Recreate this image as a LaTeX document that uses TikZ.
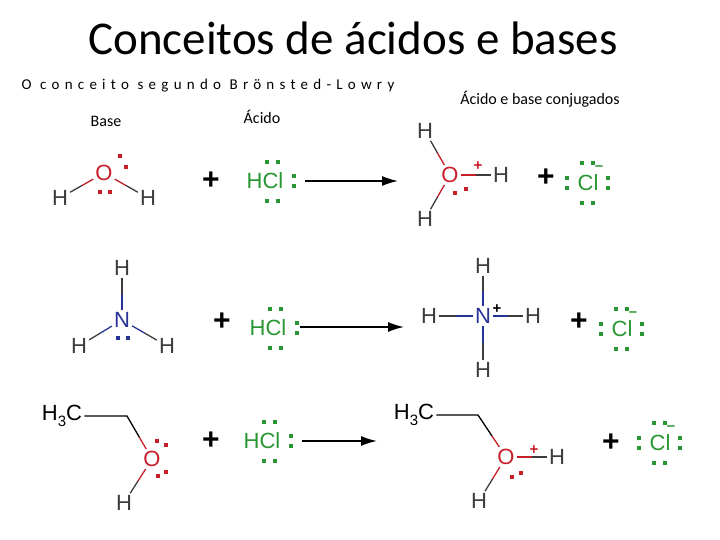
\documentclass[tikz,border=0pt]{standalone}
\usepackage{fontspec}
\setmainfont{Carlito}
\newfontfamily\arial{Liberation Sans}
\usetikzlibrary{calc,arrows.meta}
\definecolor{ored}{RGB}{200,30,40}
\definecolor{cgreen}{RGB}{40,150,50}
\definecolor{nblue}{RGB}{40,50,150}
\definecolor{hgray}{RGB}{60,60,60}
\tikzset{
 atom/.style={font=\arial\fontsize{22}{22}\selectfont,inner sep=2pt},
 hat/.style={atom,text=hgray},
 oat/.style={atom,text=ored},
 nat/.style={atom,text=nblue},
 clat/.style={atom,text=cgreen},
 bd/.style={line width=1.3pt},
 pl/.style={font=\arial\bfseries\fontsize{30}{30}\selectfont,inner sep=0pt},
 chg/.style={font=\arial\bfseries\fontsize{15}{15}\selectfont,inner sep=0pt},
 rx/.style={line width=1.6pt,-{Latex[length=16pt,width=10pt]}},
 lbl/.style={font=\fontsize{16}{16}\selectfont}
}
\newcommand{\dt}[3]{\fill[#1] (#2-1.8,#3-1.8) rectangle ++(3.7,3.7);}
\newcommand{\bnd}[4]{\draw[bd,#3] (#1) -- ($(#1)!0.5!(#2)$); \draw[bd,#4] ($(#1)!0.5!(#2)$) -- (#2);}
\newcommand{\sbs}[1]{\raisebox{-0.3em}{\fontsize{15}{15}\selectfont #1}}
\newcommand{\hcl}[3]{%
 \node[clat] (#1) at (#2,#3) {HCl};
 \dt{cgreen}{#2+2}{#3-19}\dt{cgreen}{#2+13}{#3-19}
 \dt{cgreen}{#2+2}{#3+20}\dt{cgreen}{#2+13}{#3+20}
 \dt{cgreen}{#2+29}{#3-5}\dt{cgreen}{#2+29}{#3+5}}
\newcommand{\clion}[3]{%
 \node[clat] (#1) at (#2,#3) {Cl};
 \dt{cgreen}{#2-6}{#3-20}\dt{cgreen}{#2+5}{#3-20}
 \dt{cgreen}{#2-6}{#3+20}\dt{cgreen}{#2+5}{#3+20}
 \dt{cgreen}{#2-21}{#3-5}\dt{cgreen}{#2-21}{#3+5}
 \dt{cgreen}{#2+20}{#3-5}\dt{cgreen}{#2+20}{#3+5}
 \node[chg,text=cgreen] at (#2+11,#3-15) {–};}
\begin{document}
\begin{tikzpicture}[x=1pt,y=-1pt]
\useasboundingbox (0,0) rectangle (720,540);
\node[font=\fontsize{47}{47}\selectfont] (title) at (353,38) {Conceitos de ácidos e bases};
\node[font=\fontsize{15}{15}\selectfont\addfontfeatures{LetterSpace=35}] (sub) at (208,86) {O conceito segundo Brönsted-Lowry};
\node[lbl] (lb) at (106,121) {Base};
\node[lbl] (la) at (262,117) {Ácido};
\node[lbl] (lc) at (540,99) {Ácido e base conjugados};
% row 1
\node[oat] (o1) at (104,173) {O};
\node[hat] (h1a) at (60,198) {H};
\node[hat] (h1b) at (148,198) {H};
\bnd{h1a}{o1}{hgray}{ored}\bnd{o1}{h1b}{ored}{hgray}
\dt{ored}{120}{156}\dt{ored}{126}{167}\dt{ored}{100}{192}\dt{ored}{110}{192}
\node[pl] (p1) at (211,181) {+};
\hcl{hc1}{265}{181}
\coordinate (a1s) at (305,181); \coordinate (a1e) at (398,181);
\draw[rx] (a1s) -- (a1e);
\node[oat] (o2) at (450,175) {O};
\node[hat] (h2a) at (425,131) {H};
\node[hat] (h2b) at (501,175) {H};
\node[hat] (h2c) at (425,219) {H};
\bnd{h2a}{o2}{hgray}{ored}\bnd{o2}{h2b}{ored}{hgray}\bnd{h2c}{o2}{hgray}{ored}
\node[chg,text=ored] at (478,166) {+};
\dt{ored}{455}{193}\dt{ored}{466}{189}
\node[pl] (p2) at (546,178) {+};
\clion{cl1}{588}{183}
% row 2
\node[nat] (n1) at (122,320) {N};
\node[hat] (h3a) at (122,268) {H};
\node[hat] (h3b) at (79,346) {H};
\node[hat] (h3c) at (167,346) {H};
\bnd{h3a}{n1}{hgray}{nblue}\bnd{h3b}{n1}{hgray}{nblue}\bnd{h3c}{n1}{hgray}{nblue}
\dt{nblue}{118}{338}\dt{nblue}{128}{338}
\node[pl] (p3) at (222,322) {+};
\hcl{hc2}{268}{328}
\coordinate (a2s) at (300,327); \coordinate (a2e) at (404,327);
\draw[rx] (a2s) -- (a2e);
\node[nat] (n2) at (483,316) {N};
\node[hat] (h4a) at (483,266) {H};
\node[hat] (h4b) at (429,316) {H};
\node[hat] (h4c) at (533,316) {H};
\node[hat] (h4d) at (483,370) {H};
\bnd{h4a}{n2}{hgray}{nblue}\bnd{h4b}{n2}{hgray}{nblue}\bnd{h4c}{n2}{hgray}{nblue}\bnd{h4d}{n2}{hgray}{nblue}
\node[chg,text=black] at (497,309) {+};
\node[pl] (p4) at (579,322) {+};
\clion{cl2}{622}{329}
% row 3
\node[atom] (c1) at (62,416) {H\sbs{3}C};
\coordinate (k1) at (127,416);
\node[oat] (o3) at (152,459) {O};
\node[hat] (h5) at (124,503) {H};
\draw[bd] (c1) -- (k1) -- ($(k1)!0.5!(o3)$); \draw[bd,ored] ($(k1)!0.5!(o3)$) -- (o3);
\bnd{h5}{o3}{hgray}{ored}
\dt{ored}{157}{441}\dt{ored}{166}{445}\dt{ored}{158}{476}\dt{ored}{166}{472}
\node[pl] (p5) at (211,441) {+};
\hcl{hc3}{262}{441}
\coordinate (a3s) at (302,441); \coordinate (a3e) at (377,441);
\draw[rx] (a3s) -- (a3e);
\node[atom] (c2) at (414,415) {H\sbs{3}C};
\coordinate (k2) at (478,415);
\node[oat] (o4) at (506,457) {O};
\node[hat] (h6a) at (557,457) {H};
\node[hat] (h6b) at (479,501) {H};
\draw[bd] (c2) -- (k2) -- ($(k2)!0.5!(o4)$); \draw[bd,ored] ($(k2)!0.5!(o4)$) -- (o4);
\bnd{o4}{h6a}{ored}{hgray}\bnd{h6b}{o4}{hgray}{ored}
\node[chg,text=ored] at (534,450) {+};
\dt{ored}{512}{477}\dt{ored}{521}{473}
\node[pl] (p6) at (611,443) {+};
\clion{cl3}{660}{443}
\end{tikzpicture}
\end{document}
